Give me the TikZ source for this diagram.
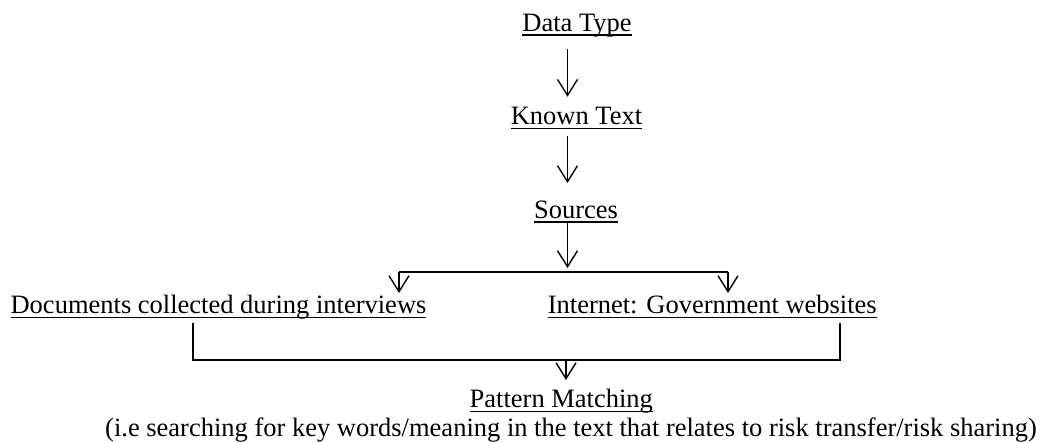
\documentclass[tikz,border=0pt]{standalone}
\usepackage{fontspec}
\setmainfont{Liberation Serif}
\usetikzlibrary{arrows.meta,calc}
\newsavebox\ulbox
% underline at a fixed depth below the baseline, descenders cross it
\newcommand\ulw[1]{\sbox\ulbox{#1}\rlap{\rule[-4.7pt]{\wd\ulbox}{1.3pt}}\usebox\ulbox}
\begin{document}
\begin{tikzpicture}[x=1pt, y=-1pt,
  label/.style={inner sep=0pt, anchor=base, font=\fontsize{26.5}{30}\selectfont},
  wire/.style={line width=1.4pt},
  arr/.style={wire, -{Straight Barb[length=16pt, width=20pt]}}]
\useasboundingbox (0,0) rectangle (1047,442);

% chart entries
\node[label] (dt)   at (577,31)    {\ulw{Data Type}};
\node[label] (kt)   at (576.5,124.5) {\ulw{Known Text}};
\node[label] (src)  at (576,218)   {\ulw{Sources}};
\node[label] (docs) at (218.5,313.3) {\ulw{Documents collected during interviews}};
\node[label] (web)  at (712.3,313.3) {\ulw{Internet: Government websites}};
\node[label] (pm)   at (561.3,407.5) {\ulw{Pattern Matching}};
\node[label] (note) at (571,436.5) {(i.e searching for key words/meaning in the text that relates to risk transfer/risk sharing)};

% trunk x positions
\coordinate (ax) at (567.5,0);
\coordinate (bx) at (566,0);

% vertical chain
\draw[arr] ($(dt.base -| ax)+(0,18)$) -- ($(kt.base -| ax)+(0,-27.8)$);
\draw[arr] ($(kt.base -| ax)+(0,11.5)$) -- ($(src.base -| ax)+(0,-35)$);
\draw[arr] ($(src.base -| ax)+(0,4)$) -- ($(src.base -| ax)+(0,50)$);

% split bar to the two sources
\coordinate (bl) at (399,272);
\coordinate (br) at (728,272);
\draw[wire] (bl) -- (br);
\draw[arr] (bl) -- ($(bl)+(0,21)$);
\draw[arr] (br) -- ($(br)+(0,21)$);

% join bracket under the two sources
\coordinate (jl) at (193,323.3);
\coordinate (jr) at (840,323.3);
\coordinate (jm) at (566,360);
\draw[wire] (jl) -- (jl |- jm) -- (jr |- jm) -- (jr);
\draw[arr] (jm) -- ($(pm.base -| bx)+(0,-27.5)$);
\end{tikzpicture}
\end{document}
